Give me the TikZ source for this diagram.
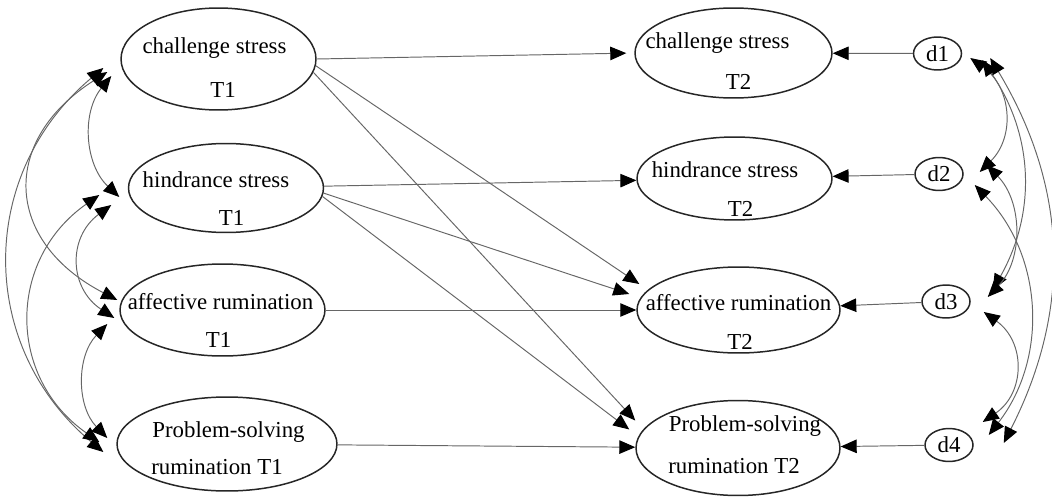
\documentclass[tikz,border=0pt]{standalone}
\usepackage{fontspec}
\setmainfont{Liberation Serif}
\usetikzlibrary{shapes.geometric}
\usetikzlibrary{arrows.meta}
\tikzset{
  every picture/.style={
    x=0.02cm, y=-0.02cm,
    >={Triangle[length=0.32cm, width=0.27cm, color=black]}
  },
  latent/.style={
    ellipse, draw=black!85, line width=0.85pt, inner sep=0pt
  },
  resid/.style={
    ellipse, draw=black!85, line width=0.85pt, inner sep=0pt,
    minimum width=0.96cm, minimum height=0.66cm,
    font=\fontsize{13}{15}\selectfont
  },
  lbl/.style={
    inner sep=0pt, font=\fontsize{13}{15}\selectfont
  },
  reg/.style={->, draw=black!60, line width=0.55pt},
  cov/.style={<->, draw=black!60, line width=0.55pt}
}
\begin{document}
\begin{tikzpicture}
  \useasboundingbox (0,0) rectangle (1052,497);
  % time 1
  \node[latent, minimum width=3.9cm, minimum height=2.04cm,
    label={[lbl, shift={(-4,-11)}]center:challenge stress},
    label={[lbl, shift={(4.5,31)}]center:T1}] (cs1) at (218.5,59) {};
  \node[latent, minimum width=3.9cm, minimum height=1.78cm,
    label={[lbl, shift={(-10,-8)}]center:hindrance stress},
    label={[lbl, shift={(5.5,30)}]center:T1}] (hs1) at (226,188) {};
  \node[latent, minimum width=4.1cm, minimum height=1.84cm,
    label={[lbl, shift={(-2,-8)}]center:affective rumination},
    label={[lbl, shift={(-4,30)}]center:T1}] (ar1) at (222.5,310) {};
  \node[latent, minimum width=4.4cm, minimum height=1.88cm,
    label={[lbl, shift={(1.5,-12)}]center:Problem-solving},
    label={[lbl, shift={(-10,23)}]center:rumination T1}] (ps1) at (227,444) {};
  % time 2
  \node[latent, minimum width=3.94cm, minimum height=1.8cm,
    label={[lbl, shift={(-16,-10)}]center:challenge stress},
    label={[lbl, shift={(5,29)}]center:T2}] (cs2) at (733.5,53) {};
  \node[latent, minimum width=3.9cm, minimum height=1.66cm,
    label={[lbl, shift={(-9.5,-8.5)}]center:hindrance stress},
    label={[lbl, shift={(6,30)}]center:T2}] (hs2) at (734.5,178.5) {};
  \node[latent, minimum width=4.06cm, minimum height=1.72cm,
    label={[lbl, shift={(0,-7)}]center:affective rumination},
    label={[lbl, shift={(1.5,32)}]center:T2}] (ar2) at (738.5,310) {};
  \node[latent, minimum width=4.08cm, minimum height=1.9cm,
    label={[lbl, shift={(7,-21.5)}]center:Problem-solving},
    label={[lbl, shift={(-4,18.5)}]center:rumination T2}] (ps2) at (738,448) {};
  % residuals
  \node[resid] (d1) at (937.5,53.5) {d1};
  \node[resid] (d2) at (939,174) {d2};
  \node[resid] (d3) at (946,301.5) {d3};
  \node[resid] (d4) at (949,445) {d4};

  % paths
  \draw[reg, shorten >=0.16cm] (cs1.east) -- (cs2.west);
  \draw[reg] (cs1.-4) -- ([shift={(3,-26)}]ar2.west);
  \draw[reg] (cs1.-8) -- ([shift={(0,-27.5)}]ps2.west);
  \draw[reg] (hs1) -- (hs2);
  \draw[reg] (hs1.-3) -- ([shift={(-7,-16)}]ar2.west);
  \draw[reg] (hs1.-5) -- ([shift={(-6,-18.5)}]ps2.west);
  \draw[reg] (ar1) -- (ar2);
  \draw[reg] (ps1) -- (ps2);
  \draw[reg] (d1) -- (cs2);
  \draw[reg] (d2) -- (hs2);
  \draw[reg] (d3) -- (ar2);
  \draw[reg] (d4) -- (ps2);

  % covariances time 1
  \draw[cov] ([shift={(-9,17)}]cs1.west) to[bend right=43] ([shift={(-8.5,9)}]hs1.west);
  \draw[cov] ([shift={(-13,13)}]cs1.west) to[bend right=60, looseness=1.43] ([shift={(-2,-10)}]ar1.west);
  \draw[cov] ([shift={(-17,9)}]cs1.west) to[bend right=50, looseness=1.1] ([shift={(-13,8)}]ps1.west);
  \draw[cov] ([shift={(-16.5,17)}]hs1.west) to[bend right=55, looseness=1.23] ([shift={(-5,8)}]ar1.west);
  \draw[cov] ([shift={(-28.5,7)}]hs1.west) to[bend right=55, looseness=1.17] ([shift={(-17,-2)}]ps1.west);
  \draw[cov] ([shift={(-12,14)}]ar1.west) to[bend right=44] ([shift={(-9,-6)}]ps1.west);

  % covariances residuals
  \draw[cov] ([shift={(8,4.5)}]d1.east) to[bend left=50, looseness=1.13] ([shift={(16,-2)}]d2.east);
  \draw[cov] ([shift={(20,6.5)}]d1.east) to[bend left=32] ([shift={(22,-11.5)}]d3.east);
  \draw[cov] ([shift={(28,4.5)}]d1.east) to[bend left=29] ([shift={(30,-2)}]d4.east);
  \draw[cov] ([shift={(23,-9)}]d2.east) to[bend left=44] ([shift={(17,-4.5)}]d3.east);
  \draw[cov] ([shift={(11,11)}]d2.east) to[bend left=41] ([shift={(15,-10)}]d4.east);
  \draw[cov] ([shift={(13,10.5)}]d3.east) to[bend left=55, looseness=1.2] ([shift={(9,-23)}]d4.east);
\end{tikzpicture}
\end{document}
